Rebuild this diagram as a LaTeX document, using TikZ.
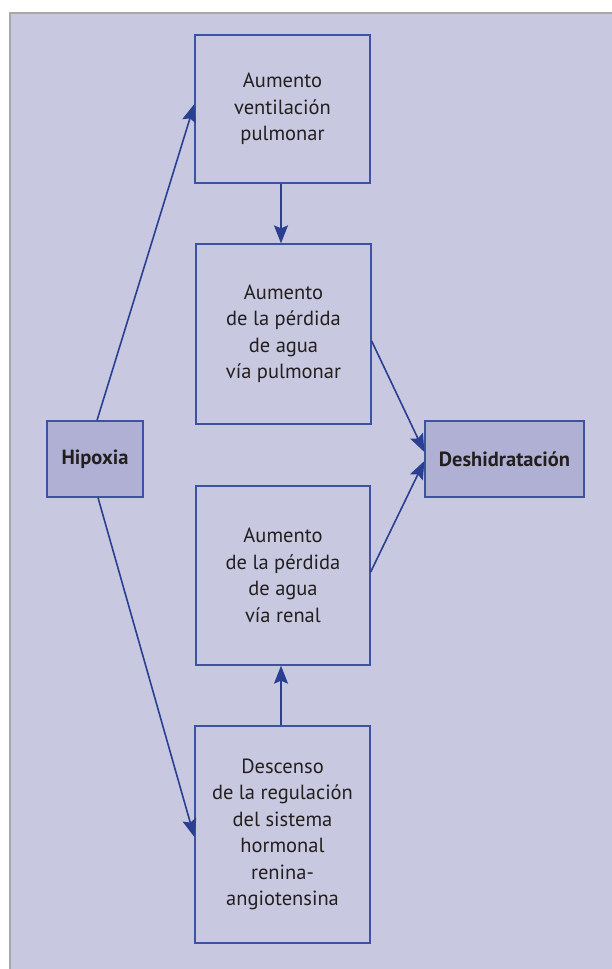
\documentclass[tikz,border=0pt]{standalone}
\usepackage{fontspec}
\setmainfont{PT Sans}
\usetikzlibrary{arrows.meta}
\definecolor{bgcol}{HTML}{C8C8E0}
\definecolor{keyfill}{HTML}{B0B0D4}
\definecolor{linecol}{HTML}{2A3F92}
\definecolor{boxline}{HTML}{3D52A0}
\definecolor{txt}{HTML}{231F20}
\definecolor{frame}{HTML}{A8A8A8}
\tikzset{
  stepbox/.style={draw=boxline, line width=1.3pt, rectangle, align=center, text=txt,
    font=\fontsize{20.5}{26.5}\selectfont, inner sep=0pt},
  keybox/.style={stepbox, fill=keyfill, font=\fontsize{20.5}{26}\selectfont\bfseries},
  arr/.style={draw=linecol, line width=1.6pt, -{Stealth[length=18pt,width=14pt,inset=3pt]}}
}
\begin{document}
\begin{tikzpicture}[x=1pt,y=-1pt]
\useasboundingbox (0,0) rectangle (612,969);
\fill[bgcol] (10,13) rectangle (612,969);
\draw[frame, line width=2pt] (10,969) -- (10,13) -- (612,13);

\node[stepbox, minimum width=175pt, minimum height=148pt] (b1) at (282.5,109) {Aumento\\ventilación\\pulmonar};
\node[stepbox, minimum width=175pt, minimum height=180pt] (b2) at (283.5,334) {Aumento\\de la pérdida\\de agua\\vía pulmonar};
\node[stepbox, minimum width=174pt, minimum height=179pt] (b3) at (283,575.5) {Aumento\\de la pérdida\\de agua\\vía renal};
\node[stepbox, minimum width=175pt, minimum height=217pt] (b4) at (282.5,834.5) {Descenso\\de la regulación\\del sistema\\hormonal\\renina-\\angiotensina};
\node[keybox, minimum width=96pt, minimum height=76pt] (hip) at (95,459) {Hipoxia};
\node[keybox, minimum width=159pt, minimum height=76pt] (des) at (504.5,459) {Deshidratación};

\draw[arr] ([xshift=2pt]hip.north) -- ([yshift=5pt]b1.west);
\draw[arr] ([xshift=3pt]hip.south) -- ([yshift=-2.5pt]b4.west);
\draw[arr] ([xshift=-1.5pt]b1.south) -- ([xshift=-1.5pt]b1.south |- b2.north);
\draw[arr] ([xshift=-1.5pt]b4.north) -- ([xshift=-1.5pt]b4.north |- b3.south);
\draw[arr] ([yshift=-7pt]b2.east) -- ([yshift=7pt]des.west);
\draw[arr] ([yshift=3.5pt]b3.east) -- ([yshift=-2pt]des.west);
\end{tikzpicture}
\end{document}
